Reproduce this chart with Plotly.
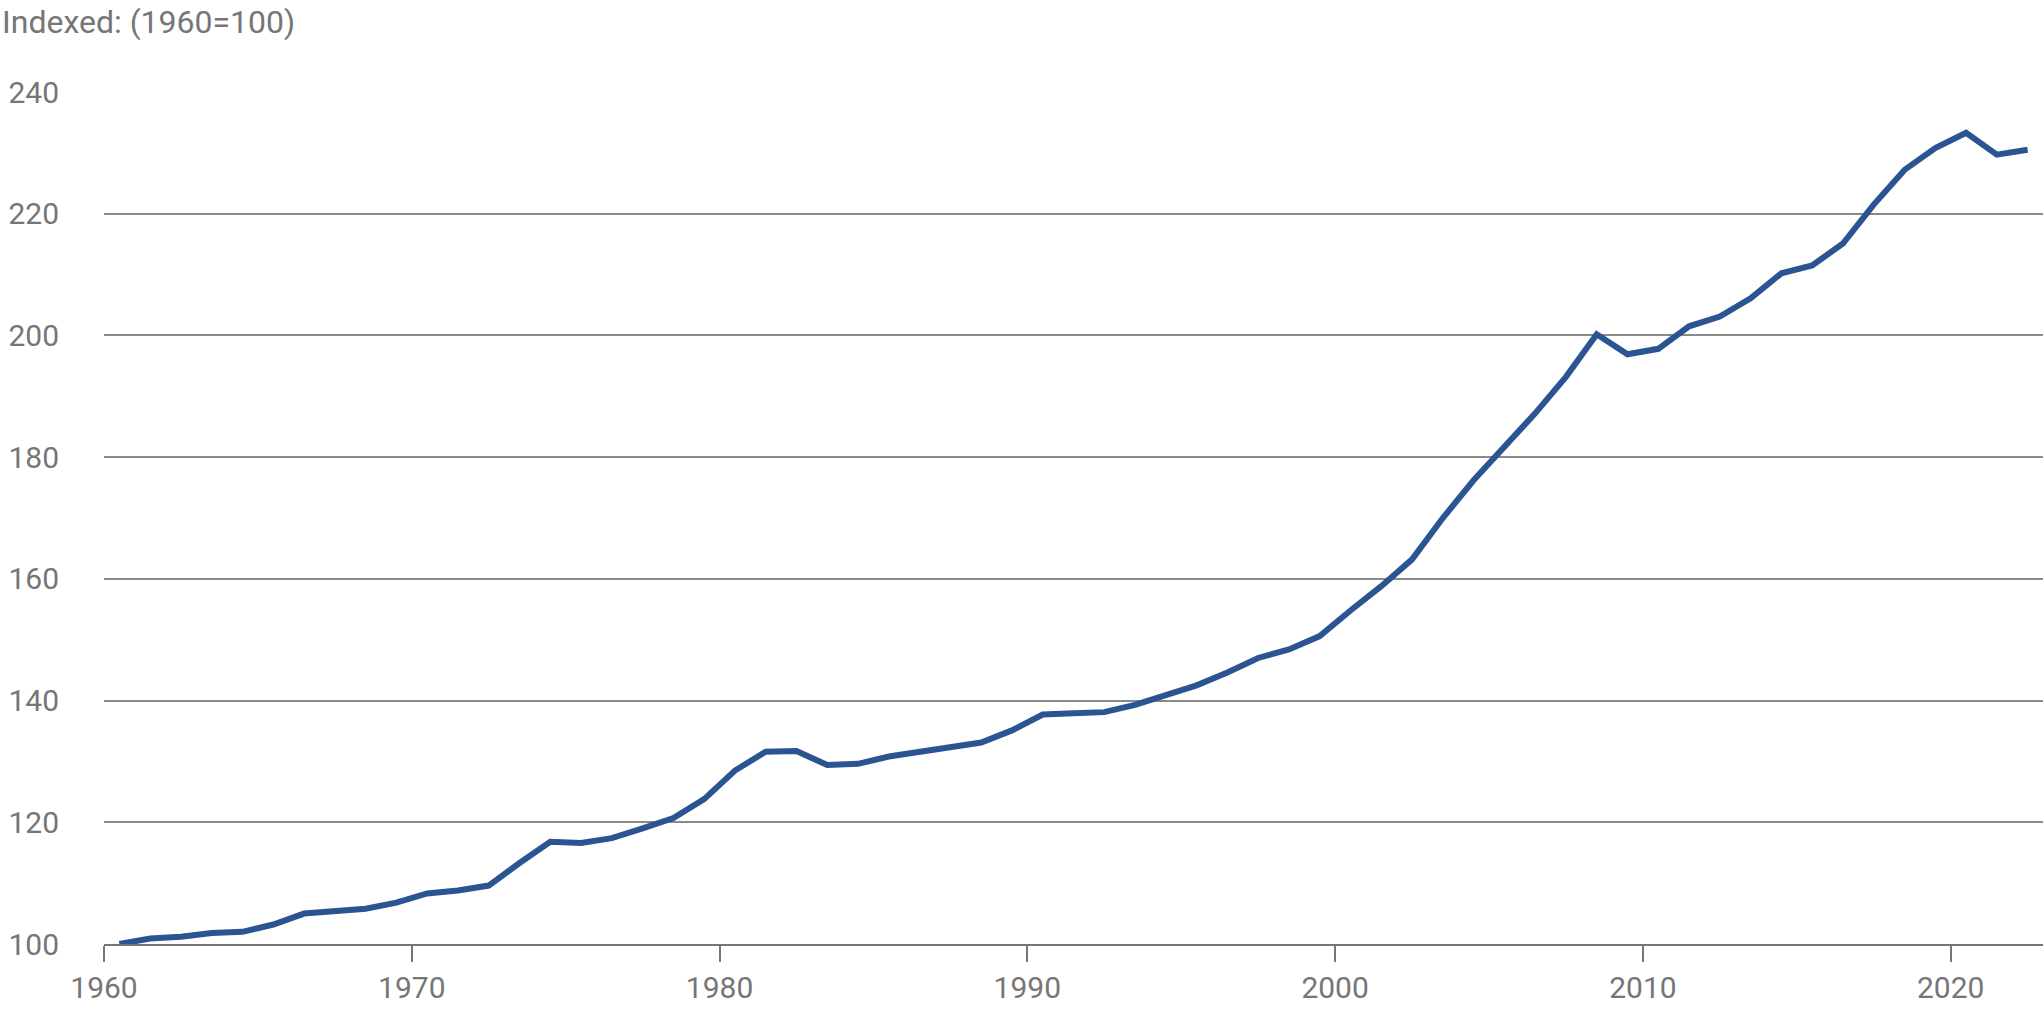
import plotly.graph_objects as go

# series (index, 1960 = 100)
years = list(range(1960, 2023))
index_values = [
    100.0, 100.9, 101.2, 101.8, 102.0, 103.2, 105.0, 105.5, 105.8, 106.8,
    108.3, 108.8, 109.6, 113.3, 116.8, 116.6, 117.4, 119.0, 120.7, 123.8,
    128.5, 131.6, 131.7, 129.4, 129.6, 130.8, 131.5, 132.4, 133.1, 135.1,
    137.7, 137.9, 138.1, 139.3, 140.9, 142.5, 144.6, 147.0, 148.4, 150.6,
    154.8, 158.8, 163.2, 170.0, 176.2, 181.7, 187.2, 193.2, 200.2, 196.9,
    197.8, 201.5, 203.1, 206.1, 210.2, 211.5, 215.1, 221.5, 227.2, 230.8,
    233.3, 229.7, 230.5,
]
x_ticks = [1960, 1970, 1980, 1990, 2000, 2010, 2020]
y_ticks = [100, 120, 140, 160, 180, 200, 220, 240]
y_title = "Indexed: (1960=100)"

grey = "#767676"
fnt = "Roboto, Arial, sans-serif"

# annual values sit in the middle of each year slot
x_mid = [y + 0.5 for y in years]

fig = go.Figure()
fig.add_trace(go.Scatter(
    x=x_mid, y=index_values, mode="lines",
    line=dict(color="#2b5493", width=6),
    showlegend=False,
))

fig.update_layout(
    width=2043, height=1012,
    margin=dict(l=104, r=0, t=92, b=68),
    paper_bgcolor="white", plot_bgcolor="white",
    font=dict(family=fnt, color=grey, size=30),
    xaxis=dict(
        range=[1960, 2023],
        tickmode="array", tickvals=x_ticks,
        ticks="outside", ticklen=16, tickwidth=2, tickcolor=grey,
        showline=True, linecolor=grey, linewidth=2,
        showgrid=False, zeroline=False,
        tickfont=dict(size=30, color=grey),
    ),
    yaxis=dict(
        range=[100, 240],
        tickmode="array", tickvals=y_ticks,
        showgrid=True, gridcolor="#8a8a8a", gridwidth=2,
        zeroline=False, showline=False, ticks="",
        ticklabelstandoff=44,
        tickfont=dict(size=30, color=grey),
    ),
    annotations=[dict(
        text=y_title, xref="paper", yref="paper",
        x=-104 / 1939, y=1 + 70 / 852,
        xanchor="left", yanchor="middle", showarrow=False,
        font=dict(size=32, color=grey, family=fnt),
    )],
)

# page has a default body margin; drop it so the figure fills the window
fig.write_html(
    "out.html",
    config={"displayModeBar": False},
    post_script="document.body.style.margin='0';",
)
